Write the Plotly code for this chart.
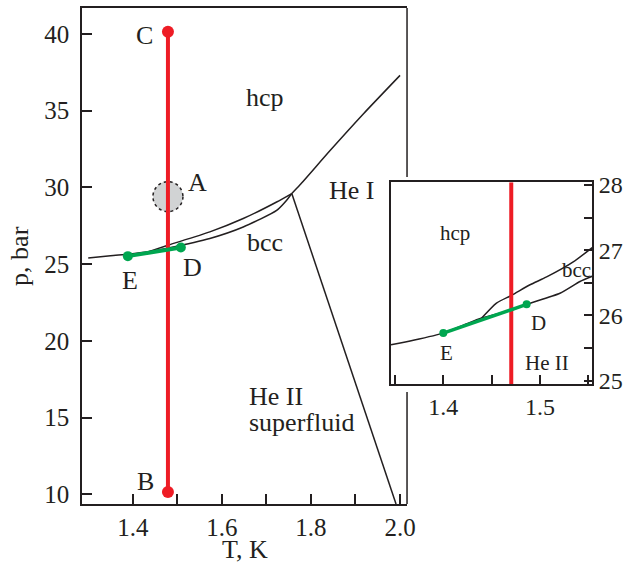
import plotly.graph_objects as go

# main diagram (T in K, p in bar)
melt_low_T = [1.30, 1.35, 1.39, 1.434, 1.48, 1.573, 1.648, 1.723, 1.745, 1.757]
melt_low_p = [25.40, 25.55, 25.65, 25.80, 26.05, 26.67, 27.42, 28.50, 29.15, 29.60]
hcp_bcc_T = [1.434, 1.479, 1.573, 1.648, 1.723, 1.757]
hcp_bcc_p = [25.80, 26.23, 27.10, 27.97, 29.05, 29.60]
melt_high_T = [1.757, 1.775, 1.843, 1.918, 2.0]
melt_high_p = [29.60, 30.15, 32.40, 34.80, 37.30]
lambda_T = [1.757, 1.991]
lambda_p = [29.60, 9.37]
path_BC_T = [1.479, 1.479]
path_BC_p = [10.15, 40.15]
path_ED_T = [1.389, 1.508]
path_ED_p = [25.52, 26.08]
point_A = (1.479, 29.4)

main_xticks = [1.4, 1.5, 1.6, 1.7, 1.8, 1.9, 2.0]
main_xtext = ["1.4", "", "1.6", "", "1.8", "", "2.0"]
main_yticks = [10, 15, 20, 25, 30, 35, 40]

main_labels = [
    ("C", 1.427, 39.93), ("A", 1.546, 30.35), ("hcp", 1.696, 35.83),
    ("bcc", 1.696, 26.44), ("He I", 1.892, 29.83), ("E", 1.393, 23.96),
    ("D", 1.535, 24.81), ("B", 1.428, 10.82),
]
superfluid_labels = [("He II", 1.656, 16.40), ("superfluid", 1.656, 14.68)]

# inset (zoom near E-D)
in_low_T = [1.3459, 1.369, 1.40, 1.4207, 1.4397, 1.4703, 1.4862, 1.5207, 1.5414, 1.554]
in_low_p = [25.55, 25.62, 25.73, 25.85, 25.96, 26.08, 26.17, 26.34, 26.52, 26.60]
in_up_T = [1.4397, 1.455, 1.4707, 1.4897, 1.5069, 1.5344, 1.554]
in_up_p = [25.96, 26.19, 26.31, 26.47, 26.59, 26.82, 27.04]
in_red_T = [1.4703, 1.4703]
in_red_p = [24.95, 28.04]
in_ED_T = [1.40, 1.4862]
in_ED_p = [25.73, 26.17]
inset_xticks = [1.35, 1.40, 1.45, 1.50, 1.55]
inset_xtext = ["", "1.4", "", "1.5", ""]
inset_yticks = [25, 25.5, 26, 26.5, 27, 27.5, 28]
inset_ytext = ["25", "", "26", "", "27", "", "28"]
inset_labels = [
    ("hcp", 1.412, 27.26), ("bcc", 1.538, 26.70), ("D", 1.4982, 25.89),
    ("E", 1.4035, 25.43), ("He II", 1.507, 25.27),
]

BLACK = "#231F20"
RED = "#EE1C25"
GREEN = "#00A650"
FONT = "Liberation Serif"

fig = go.Figure()


def line(x, y, xa, ya, color=BLACK, width=1.5):
    fig.add_trace(go.Scatter(x=x, y=y, xaxis=xa, yaxis=ya, mode="lines",
                             line=dict(color=color, width=width, shape="spline", smoothing=0.6),
                             hoverinfo="skip", showlegend=False))


line(melt_low_T, melt_low_p, "x", "y")
line(hcp_bcc_T, hcp_bcc_p, "x", "y")
line(melt_high_T, melt_high_p, "x", "y")
line(lambda_T, lambda_p, "x", "y")
fig.add_trace(go.Scatter(x=path_BC_T, y=path_BC_p, mode="lines+markers",
                         line=dict(color=RED, width=4), marker=dict(color=RED, size=12),
                         showlegend=False))
fig.add_trace(go.Scatter(x=path_ED_T, y=path_ED_p, mode="lines+markers",
                         line=dict(color=GREEN, width=4), marker=dict(color=GREEN, size=10),
                         showlegend=False))

line(in_low_T, in_low_p, "x2", "y2")
line(in_up_T, in_up_p, "x2", "y2")
fig.add_trace(go.Scatter(x=in_red_T, y=in_red_p, xaxis="x2", yaxis="y2", mode="lines",
                         line=dict(color=RED, width=4), showlegend=False))
fig.add_trace(go.Scatter(x=in_ED_T, y=in_ED_p, xaxis="x2", yaxis="y2", mode="lines+markers",
                         line=dict(color=GREEN, width=3.5), marker=dict(color=GREEN, size=8),
                         showlegend=False))

# region A: dashed circle, fixed pixel size
fig.add_shape(type="circle", xref="x", yref="y", xsizemode="pixel", ysizemode="pixel",
              xanchor=point_A[0], yanchor=point_A[1], x0=-15, x1=15, y0=-15, y1=15,
              fillcolor="#D1D3D4", line=dict(color=BLACK, width=1.5, dash="dot"), layer="below")

# right frame of the main box, broken where the inset sits
for y0, y1 in [(1, 0.6593), (0.2258, 0)]:
    fig.add_shape(type="line", xref="x domain", yref="y domain", x0=1, x1=1, y0=y0, y1=y1,
                  line=dict(color=BLACK, width=1.5))

for txt, tx, py in main_labels:
    fig.add_annotation(x=tx, y=py, xref="x", yref="y", text=txt, showarrow=False,
                       font=dict(size=26))
for txt, tx, py in superfluid_labels:
    fig.add_annotation(x=tx, y=py, xref="x", yref="y", text=txt, showarrow=False,
                       xanchor="left", font=dict(size=26))
for txt, tx, py in inset_labels:
    fig.add_annotation(x=tx, y=py, xref="x2", yref="y2", text=txt, showarrow=False,
                       font=dict(size=21))

# axis titles
fig.add_annotation(x=0.5, y=-0.091, xref="x domain", yref="y domain", text="T, K",
                   xanchor="center", yanchor="middle", showarrow=False, font=dict(size=26))
fig.add_annotation(x=-0.191, y=0.5, xref="x domain", yref="y domain", text="p, bar",
                   xanchor="center", yanchor="middle", textangle=-90, showarrow=False,
                   font=dict(size=26))

axis_common = dict(showline=True, linecolor=BLACK, linewidth=1.5, ticks="inside",
                   ticklen=10, tickwidth=1.5, tickcolor=BLACK, showgrid=False,
                   zeroline=False, automargin=False,
                   tickfont=dict(family=FONT, size=25, color=BLACK))

fig.update_layout(
    width=634, height=564, margin=dict(l=0, r=0, t=0, b=0),
    font=dict(family=FONT, color=BLACK),
    plot_bgcolor="white", paper_bgcolor="white", showlegend=False,
    xaxis=dict(axis_common, domain=[0.1293, 0.6420], range=[1.286, 2.0157],
               tickmode="array", tickvals=main_xticks, ticktext=main_xtext, mirror=True),
    yaxis=dict(axis_common, domain=[0.1064, 0.9858], range=[9.37, 41.69],
               tickmode="array", tickvals=main_yticks, ticklabelstandoff=6),
    xaxis2=dict(axis_common, domain=[0.6167, 0.9342], range=[1.3459, 1.5541], anchor="y2",
                tickmode="array", tickvals=inset_xticks, ticktext=inset_xtext, mirror=True,
                tickfont=dict(family=FONT, size=24, color=BLACK), ticklen=9),
    yaxis2=dict(axis_common, domain=[0.3191, 0.6768], range=[24.95, 28.04], anchor="x2",
                side="right", tickmode="array", tickvals=inset_yticks, ticktext=inset_ytext,
                mirror=True, tickfont=dict(family=FONT, size=24, color=BLACK), ticklen=9),
)

fig.write_html("out.html", config={"displayModeBar": False},
               post_script="document.body.style.margin = '0';")
